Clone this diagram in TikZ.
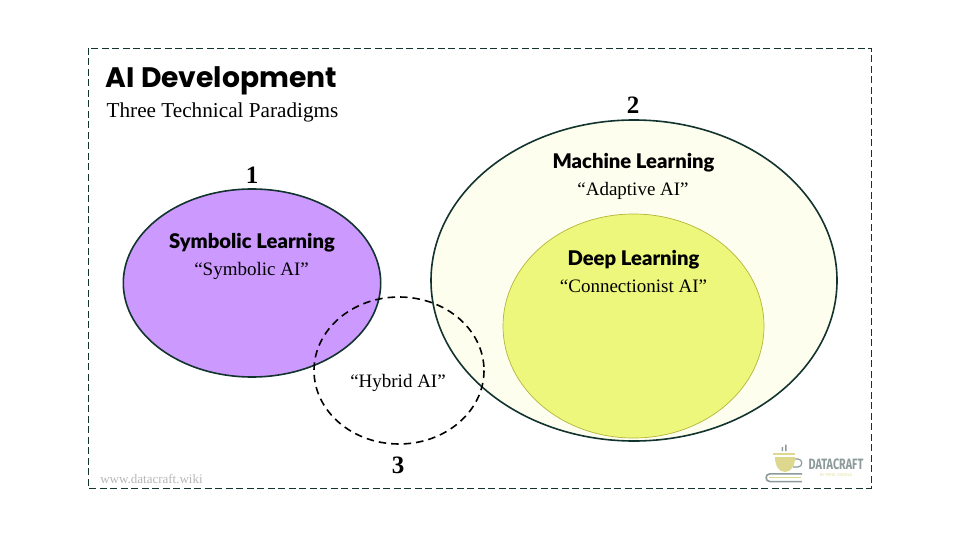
\documentclass[tikz,border=0pt]{standalone}
\usepackage{fontspec}
\setmainfont{Liberation Serif}
\newfontfamily\titlefont{Poppins}
\newfontfamily\headfont{Lato}[UprightFont=* Black]
\newfontfamily\logofont{Fira Sans}[FakeStretch=0.72]
\definecolor{edgegreen}{HTML}{12332E}
\definecolor{purplefill}{HTML}{CC99FF}
\definecolor{creamfill}{HTML}{FEFEEE}
\definecolor{yellowfill}{HTML}{EDF77C}
\definecolor{yellowedge}{HTML}{B5B53C}
\definecolor{logoy}{HTML}{DDD88E}
\definecolor{logog}{HTML}{8D9A9A}
\tikzset{
  x=1pt,y=-1pt,
  heading/.style={font=\headfont\fontsize{20.2}{22}\selectfont,text=black,inner sep=0pt,anchor=center},
  quoted/.style={font=\fontsize{19}{21}\selectfont,text=black,inner sep=0pt,anchor=center},
  number/.style={font=\bfseries\fontsize{25}{28}\selectfont,text=black,inner sep=0pt,anchor=center},
  blob/.style={line width=1.6pt,draw=edgegreen},
  frame/.style={draw=edgegreen,line width=0.9pt,dash pattern=on 7pt off 3.5pt},
}
\begin{document}
\begin{tikzpicture}
\useasboundingbox (0,0) rectangle (960,540);
\fill[white] (0,0) rectangle (960,540);
\draw[frame] (88,48) rectangle (871,488);
\node[inner sep=0pt,anchor=center,font=\titlefont\bfseries\fontsize{28.2}{30}\selectfont] (title) at (221.5,81) {AI Development};
\node[quoted,font=\fontsize{21.2}{23}\selectfont] (sub) at (222.5,112) {Three Technical Paradigms};
\fill[purplefill] (252,283) ellipse [x radius=128.7,y radius=94];
\draw[blob] (252,283) ellipse [x radius=128.7,y radius=94];
\fill[creamfill] (634,280.5) ellipse [x radius=203,y radius=160.5];
\draw[blob] (634,280.5) ellipse [x radius=203,y radius=160.5];
\fill[yellowfill] (633.5,326) ellipse [x radius=130.5,y radius=112];
\draw[yellowedge,line width=0.7pt] (633.5,326) ellipse [x radius=130.5,y radius=112];
\draw[line width=1.6pt,black,dash pattern=on 7.5pt off 5pt] (399,370.5) ellipse [x radius=85,y radius=73.5];
\node[number] (n1) at (252,175) {1};
\node[number] (n2) at (633,105) {2};
\node[number] (n3) at (398,465) {3};
\node[heading] (sym) at (252,243) {Symbolic Learning};
\node[quoted] (symq) at (251.5,271) {“Symbolic AI”};
\node[heading] (ml) at (633.5,163) {Machine Learning};
\node[quoted] (mlq) at (633,191) {“Adaptive AI”};
\node[heading] (dl) at (633.5,260) {Deep Learning};
\node[quoted] (dlq) at (633.5,286.5) {“Connectionist AI”};
\node[quoted] (hy) at (398,383) {“Hybrid AI”};
\node[inner sep=0pt,text=black!28,font=\fontsize{13}{15}\selectfont] (web) at (151.5,479) {www.datacraft.wiki};
% logo
\fill[logog] (781.5,447) rectangle (783,451) (785,444.5) rectangle (786.5,451);
\fill[logoy] (773,453) rectangle (795,454.5);
\fill[logoy] (775,457) -- (795,457) .. controls (795,466) and (791,472) .. (785,472) .. controls (779,472) and (775,466) .. (775,457) -- cycle;
\draw[logog,line width=1.2pt] (795,459) -- (798,459) .. controls (803,459) and (803,467) .. (798,467) -- (793,467);
\draw[logog,line width=1.6pt] (802,473.8) -- (770,473.8) .. controls (764.8,473.8) and (764.8,481.6) .. (770,481.6) -- (802,481.6);
\draw[logoy,line width=1.4pt] (769,477.7) -- (801,477.7);
\node[inner sep=0pt,text=logog,font=\logofont\bfseries\fontsize{15}{16}\selectfont] (logo) at (836,464) {DATACRAFT};
\node[inner sep=0pt,text=logoy!80,font=\titlefont\fontsize{4.2}{5}\selectfont] (logob) at (836,475.5) {BY PEHIL DEDINA};
\end{tikzpicture}
\end{document}
